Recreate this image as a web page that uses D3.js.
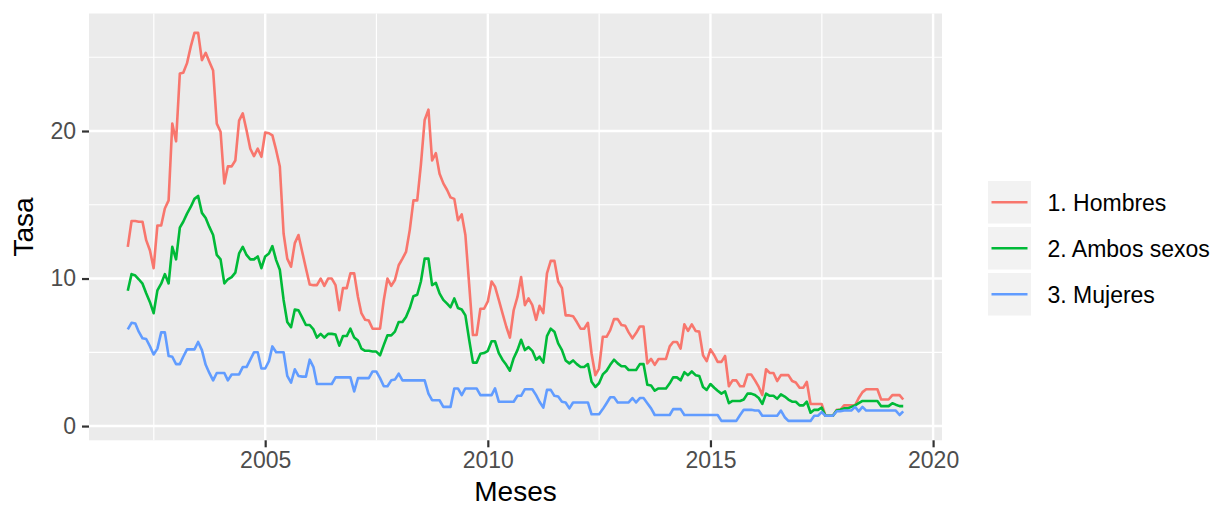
<!DOCTYPE html>
<html>
<head>
<meta charset="utf-8">
<script src="https://cdn.jsdelivr.net/npm/d3@7"></script>
<style>
  html, body { margin: 0; padding: 0; background: #fff; }
  svg { display: block; font-family: "Liberation Sans", Arial, Helvetica, sans-serif; }
</style>
</head>
<body>
<svg id="chart" width="1219" height="508"></svg>
<script>
// ---- data (monthly, starting December 2001) ----
const startMonth = "2001-12-01";
const seriesNames = ["1. Hombres", "2. Ambos sexos", "3. Mujeres"];
const seriesColors = ["#F8766D", "#00BA38", "#619CFF"];
const xTickYears = [2005, 2010, 2015, 2020];
const xMinorYears = [2002.5, 2007.5, 2012.5, 2017.5];
const yTicks = [0, 10, 20];
const yMinor = [5, 15, 25];

const hombres = [
  12.15, 13.9, 13.9, 13.85, 13.85, 12.6, 11.9, 10.7, 13.6, 13.6,
  14.75, 15.3, 20.5, 19.3, 23.9, 23.95, 24.6, 25.7, 26.65, 26.65,
  24.8, 25.3, 24.7, 24.1, 20.5, 19.95, 16.45, 17.6, 17.6, 18.0,
  20.7, 21.2, 20.05, 18.8, 18.3, 18.8, 18.25, 19.9, 19.85, 19.7,
  18.7, 17.6, 13.05, 11.35, 10.8, 12.4, 12.95, 11.8, 10.7, 9.6,
  9.55, 9.55, 10.0, 9.5, 10.0, 10.0, 9.55, 7.85, 9.35, 9.35,
  10.35, 10.35, 8.75, 7.65, 7.2, 7.15, 6.6, 6.6, 6.6, 8.55,
  10.0, 9.5, 9.9, 10.9, 11.35, 11.8, 13.3, 15.3, 15.3, 17.7,
  20.75, 21.45, 18.0, 18.5, 17.1, 16.45, 16.0, 15.5, 15.4, 13.95,
  14.35, 12.95, 9.6, 6.17, 6.17, 7.95, 7.95, 8.45, 9.8, 9.45,
  8.55, 7.65, 6.75, 6.0, 7.85, 8.75, 10.1, 8.2, 8.65, 8.2,
  7.2, 8.15, 7.65, 10.35, 11.2, 11.2, 9.8, 9.35, 7.5, 7.5,
  7.45, 7.05, 6.6, 6.6, 7.0, 4.9, 3.45, 3.9, 6.05, 6.05,
  6.5, 7.25, 7.25, 6.85, 6.8, 6.35, 5.95, 6.3, 6.75, 6.75,
  4.25, 4.55, 4.15, 4.55, 4.55, 4.55, 5.4, 5.7, 5.7, 5.25,
  6.9, 6.45, 6.9, 6.45, 6.4, 4.8, 4.4, 5.2, 4.8, 4.35,
  4.35, 4.75, 2.7, 3.1, 3.1, 2.7, 2.7, 3.5, 3.5, 3.1,
  2.65, 2.1, 3.85, 3.6, 3.6, 3.05, 3.45, 3.45, 3.45, 3.05,
  2.95, 2.6, 2.6, 3.0, 1.5, 1.5, 1.5, 1.5, 0.7, 0.7,
  0.7, 1.1, 1.1, 1.4, 1.4, 1.4, 1.4, 1.9, 2.3, 2.5,
  2.5, 2.5, 2.5, 1.8, 1.8, 1.8, 2.1, 2.1, 2.1, 1.8
];
const ambos = [
  9.17, 10.3, 10.2, 9.95, 9.65, 9.0, 8.4, 7.65, 9.2, 9.65,
  10.3, 9.67, 12.15, 11.3, 13.45, 13.85, 14.4, 14.85, 15.4, 15.6,
  14.45, 14.1, 13.5, 12.95, 11.6, 11.3, 9.67, 9.95, 10.1, 10.4,
  11.7, 12.15, 11.6, 11.3, 11.3, 11.5, 10.7, 11.5, 11.7, 12.2,
  11.25, 10.6, 8.55, 7.05, 6.7, 7.9, 7.85, 7.35, 6.85, 6.85,
  6.55, 6.0, 6.25, 6.0, 6.25, 6.25, 6.2, 5.45, 6.1, 6.1,
  6.6, 6.0, 5.8, 5.25, 5.1, 5.1, 5.05, 5.05, 4.8, 5.5,
  6.15, 6.15, 6.4, 7.05, 7.05, 7.4, 8.0, 8.8, 8.9, 9.8,
  11.35, 11.35, 9.55, 9.7, 9.0, 8.55, 8.3, 8.05, 8.65, 8.0,
  7.9, 7.5, 5.85, 4.3, 4.3, 4.9, 4.95, 5.1, 5.75, 5.75,
  4.95, 4.5, 4.15, 3.75, 4.6, 5.15, 5.85, 5.15, 5.35, 5.1,
  4.5, 4.7, 4.3, 6.1, 6.6, 6.4, 5.6, 5.15, 4.45, 4.25,
  4.45, 4.2, 4.0, 4.0, 4.2, 3.0, 2.65, 2.9, 3.5, 3.75,
  4.15, 4.5, 4.25, 4.05, 4.05, 3.8, 3.8, 3.8, 4.2, 4.2,
  2.8, 2.75, 2.4, 2.55, 2.55, 2.55, 2.9, 3.3, 3.3, 3.1,
  3.65, 3.45, 3.7, 3.45, 3.4, 2.65, 2.45, 2.85, 2.6, 2.4,
  2.2, 2.35, 1.55, 1.7, 1.7, 1.7, 1.8, 2.2, 2.2, 2.1,
  1.9, 1.5, 2.2, 2.05, 2.05, 1.85, 2.15, 2.0, 1.8, 1.65,
  1.65, 1.4, 1.4, 1.65, 0.9, 1.1, 1.1, 1.25, 0.7, 0.7,
  0.7, 1.05, 1.1, 1.2, 1.2, 1.3, 1.4, 1.55, 1.7, 1.7,
  1.7, 1.7, 1.7, 1.35, 1.35, 1.35, 1.55, 1.45, 1.35, 1.35
];
const mujeres = [
  6.55, 7.0, 6.95, 6.4, 5.95, 5.9, 5.4, 4.85, 5.25, 6.35,
  6.35, 4.75, 4.7, 4.2, 4.2, 4.7, 5.2, 5.2, 5.2, 5.7,
  5.15, 4.15, 3.6, 3.1, 3.6, 3.6, 3.6, 3.1, 3.5, 3.5,
  3.5, 4.0, 4.0, 4.5, 5.0, 5.0, 3.9, 3.9, 4.4, 5.4,
  5.0, 5.0, 5.0, 3.4, 2.95, 3.85, 3.4, 3.35, 3.35, 4.5,
  4.0, 2.85, 2.85, 2.85, 2.85, 2.85, 3.3, 3.3, 3.3, 3.3,
  3.3, 2.35, 3.25, 3.25, 3.25, 3.25, 3.7, 3.7, 3.25, 2.7,
  2.7, 3.1, 3.15, 3.55, 3.1, 3.1, 3.1, 3.1, 3.1, 3.1,
  3.1, 2.2, 1.75, 1.75, 1.75, 1.3, 1.3, 1.3, 2.55, 2.55,
  2.1, 2.55, 2.55, 2.55, 2.55, 2.1, 2.1, 2.1, 2.1, 2.55,
  1.65, 1.65, 1.65, 1.65, 1.65, 2.05, 2.05, 2.5, 2.5, 2.5,
  2.1, 1.65, 1.25, 2.45, 2.45, 2.05, 2.0, 1.65, 1.6, 1.2,
  1.6, 1.6, 1.6, 1.6, 1.6, 0.8, 0.8, 0.8, 1.15, 1.55,
  1.95, 1.95, 1.6, 1.6, 1.6, 1.6, 1.9, 1.6, 1.9, 1.9,
  1.55, 1.2, 0.75, 0.75, 0.75, 0.75, 0.75, 1.15, 1.15, 1.15,
  0.75, 0.75, 0.75, 0.75, 0.75, 0.75, 0.75, 0.75, 0.75, 0.75,
  0.35, 0.35, 0.35, 0.35, 0.35, 0.75, 1.1, 1.1, 1.1, 1.05,
  1.05, 0.7, 0.7, 0.7, 0.7, 0.7, 1.05, 0.6, 0.35, 0.35,
  0.35, 0.35, 0.35, 0.35, 0.35, 0.7, 0.7, 0.95, 0.7, 0.7,
  0.7, 1.0, 1.0, 1.05, 1.05, 1.05, 1.3, 1.0, 1.3, 1.05,
  1.05, 1.05, 1.05, 1.05, 1.05, 1.05, 1.05, 1.05, 0.75, 1.0
];

// ---- build ----
const allSeries = [hombres, ambos, mujeres];
const start = new Date(startMonth + "T00:00:00Z");
const dates = hombres.map((_, i) => d3.utcMonth.offset(start, i));
const yearDate = y => {
  const yr = Math.floor(y);
  const a = Date.UTC(yr, 0, 1), b = Date.UTC(yr + 1, 0, 1);
  return new Date(a + (y - yr) * (b - a));
};

const svg = d3.select("#chart");
const panel = { left: 89, right: 942, top: 13.5, bottom: 440.3 };

// ggplot-like 5% expansion
const tExt = d3.extent(dates, d => +d);
const tPad = (tExt[1] - tExt[0]) * 0.05;
const x = d3.scaleUtc()
  .domain([new Date(tExt[0] - tPad), new Date(tExt[1] + tPad)])
  .range([panel.left, panel.right]);

const allVals = allSeries.flat();
const vExt = d3.extent(allVals);
const vPad = (vExt[1] - vExt[0]) * 0.05;
const y = d3.scaleLinear()
  .domain([vExt[0] - vPad, vExt[1] + vPad])
  .range([panel.bottom, panel.top]);

// panel background
svg.append("rect")
  .attr("x", panel.left).attr("y", panel.top)
  .attr("width", panel.right - panel.left)
  .attr("height", panel.bottom - panel.top)
  .attr("fill", "#EBEBEB");

const grid = svg.append("g");
// minor grid
grid.selectAll(".ym").data(yMinor).join("line")
  .attr("x1", panel.left).attr("x2", panel.right)
  .attr("y1", d => y(d)).attr("y2", d => y(d))
  .attr("stroke", "#fff").attr("stroke-width", 1.2);
grid.selectAll(".xm").data(xMinorYears).join("line")
  .attr("x1", d => x(yearDate(d))).attr("x2", d => x(yearDate(d)))
  .attr("y1", panel.top).attr("y2", panel.bottom)
  .attr("stroke", "#fff").attr("stroke-width", 1.2);
// major grid
grid.selectAll(".yM").data(yTicks).join("line")
  .attr("x1", panel.left).attr("x2", panel.right)
  .attr("y1", d => y(d)).attr("y2", d => y(d))
  .attr("stroke", "#fff").attr("stroke-width", 2.4);
grid.selectAll(".xM").data(xTickYears).join("line")
  .attr("x1", d => x(yearDate(d))).attr("x2", d => x(yearDate(d)))
  .attr("y1", panel.top).attr("y2", panel.bottom)
  .attr("stroke", "#fff").attr("stroke-width", 2.4);

// lines
const line = d3.line()
  .x((d, i) => x(dates[i]))
  .y(d => y(d));
svg.append("g").selectAll("path").data(allSeries).join("path")
  .attr("d", d => line(d))
  .attr("fill", "none")
  .attr("stroke", (d, i) => seriesColors[i])
  .attr("stroke-width", 2.6)
  .attr("stroke-linejoin", "round")
  .attr("stroke-linecap", "butt");

// axes
const xAxis = d3.axisBottom(x)
  .tickValues(xTickYears.map(yearDate))
  .tickFormat(d3.utcFormat("%Y"))
  .tickSize(7).tickPadding(4);
const gx = svg.append("g").attr("transform", `translate(0,${panel.bottom})`).call(xAxis);
gx.select(".domain").remove();
gx.selectAll(".tick line").attr("stroke", "#333333").attr("stroke-width", 2.2);
gx.selectAll(".tick text").attr("fill", "#4D4D4D")
  .attr("font-size", 23).attr("font-family", "Liberation Sans, Arial, sans-serif")
  .attr("dy", "0.71em");

const yAxis = d3.axisLeft(y).tickValues(yTicks).tickSize(7).tickPadding(6);
const gy = svg.append("g").attr("transform", `translate(${panel.left},0)`).call(yAxis);
gy.select(".domain").remove();
gy.selectAll(".tick line").attr("stroke", "#333333").attr("stroke-width", 2.2);
gy.selectAll(".tick text").attr("fill", "#4D4D4D")
  .attr("font-size", 23).attr("font-family", "Liberation Sans, Arial, sans-serif");

// axis titles
svg.append("text")
  .attr("x", (panel.left + panel.right) / 2).attr("y", 501)
  .attr("text-anchor", "middle")
  .attr("font-size", 28).attr("fill", "#000")
  .text("Meses");
svg.append("text")
  .attr("transform", `translate(33,${(panel.top + panel.bottom) / 2}) rotate(-90)`)
  .attr("text-anchor", "middle")
  .attr("font-size", 28).attr("fill", "#000")
  .text("Tasa");

// legend
const legend = svg.append("g");
const keyTop = 181, keyH = 42.5, keyGap = 3.5, keyX = 988, keyW = 43;
seriesNames.forEach((name, i) => {
  const ky = keyTop + i * (keyH + keyGap);
  legend.append("rect")
    .attr("x", keyX).attr("y", ky).attr("width", keyW).attr("height", keyH)
    .attr("fill", "#F2F2F2");
  legend.append("line")
    .attr("x1", keyX + 3.5).attr("x2", keyX + keyW - 3.5)
    .attr("y1", ky + keyH / 2).attr("y2", ky + keyH / 2)
    .attr("stroke", seriesColors[i]).attr("stroke-width", 2.6);
  legend.append("text")
    .attr("x", 1047.5).attr("y", ky + keyH / 2)
    .attr("dy", "0.36em")
    .attr("font-size", 23).attr("fill", "#000")
    .text(name);
});
</script>
</body>
</html>
